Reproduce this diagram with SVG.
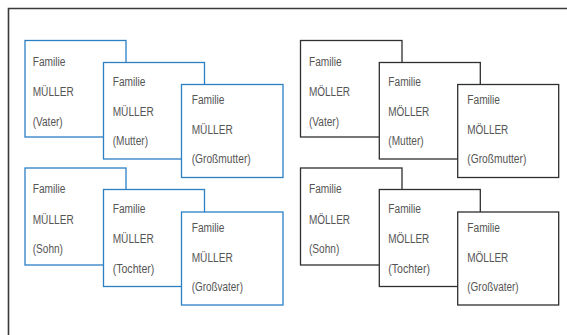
<svg xmlns="http://www.w3.org/2000/svg" width="567" height="335" viewBox="0 0 567 335">
<style>
.frame{fill:none;stroke:#3a3a3a;stroke-width:1.6}
.b{fill:#fff;stroke:#2b7fc3;stroke-width:1.3}
.k{fill:#fff;stroke:#2f2f2f;stroke-width:1.3}
text{font-family:"Liberation Sans",Arial,sans-serif;font-size:12px;fill:#555}
</style>
<rect width="567" height="335" fill="#fff"/>
<path class="frame" d="M8.5,335 V8.5 H567"/>
<g id="blue-vater"><rect class="b" x="25" y="40.5" width="101" height="96.5"/><text x="32.7" y="66.3" textLength="32.7" lengthAdjust="spacingAndGlyphs">Familie</text><text x="32.7" y="96" textLength="41" lengthAdjust="spacingAndGlyphs">MÜLLER</text><text x="32.7" y="125.8" textLength="30" lengthAdjust="spacingAndGlyphs">(Vater)</text></g>
<g id="blue-mutter"><rect class="b" x="103.5" y="62.5" width="101" height="96.5"/><text x="112.7" y="86.3" textLength="32.7" lengthAdjust="spacingAndGlyphs">Familie</text><text x="112.7" y="116.3" textLength="41" lengthAdjust="spacingAndGlyphs">MÜLLER</text><text x="112.7" y="145.3" textLength="35.3" lengthAdjust="spacingAndGlyphs">(Mutter)</text></g>
<g id="blue-grossmutter"><rect class="b" x="181.5" y="84.5" width="101.5" height="93"/><text x="191.7" y="104.3" textLength="32.7" lengthAdjust="spacingAndGlyphs">Familie</text><text x="191.7" y="134.3" textLength="41" lengthAdjust="spacingAndGlyphs">MÜLLER</text><text x="191.7" y="163.3" textLength="59" lengthAdjust="spacingAndGlyphs">(Großmutter)</text></g>
<g id="blue-sohn"><rect class="b" x="25" y="168" width="101" height="97"/><text x="32.7" y="193.3" textLength="32.7" lengthAdjust="spacingAndGlyphs">Familie</text><text x="32.7" y="223.5" textLength="41" lengthAdjust="spacingAndGlyphs">MÜLLER</text><text x="32.7" y="253.3" textLength="30.3" lengthAdjust="spacingAndGlyphs">(Sohn)</text></g>
<g id="blue-tochter"><rect class="b" x="103.5" y="189.5" width="101" height="97"/><text x="112.7" y="213" textLength="32.7" lengthAdjust="spacingAndGlyphs">Familie</text><text x="112.7" y="243" textLength="41" lengthAdjust="spacingAndGlyphs">MÜLLER</text><text x="112.7" y="272.5" textLength="41.7" lengthAdjust="spacingAndGlyphs">(Tochter)</text></g>
<g id="blue-grossvater"><rect class="b" x="181.5" y="212" width="101.5" height="93"/><text x="191.7" y="232" textLength="32.7" lengthAdjust="spacingAndGlyphs">Familie</text><text x="191.7" y="261.5" textLength="41" lengthAdjust="spacingAndGlyphs">MÜLLER</text><text x="191.7" y="291" textLength="51.3" lengthAdjust="spacingAndGlyphs">(Großvater)</text></g>
<g id="black-vater"><rect class="k" x="300.5" y="40.5" width="101.5" height="96.5"/><text x="309" y="66.3" textLength="32.7" lengthAdjust="spacingAndGlyphs">Familie</text><text x="309" y="96" textLength="41" lengthAdjust="spacingAndGlyphs">MÖLLER</text><text x="309" y="125.8" textLength="30" lengthAdjust="spacingAndGlyphs">(Vater)</text></g>
<g id="black-mutter"><rect class="k" x="379.3" y="62.5" width="101" height="96.5"/><text x="388.3" y="86.3" textLength="32.7" lengthAdjust="spacingAndGlyphs">Familie</text><text x="388.3" y="116.3" textLength="41" lengthAdjust="spacingAndGlyphs">MÖLLER</text><text x="388.3" y="145.3" textLength="35.3" lengthAdjust="spacingAndGlyphs">(Mutter)</text></g>
<g id="black-grossmutter"><rect class="k" x="457.7" y="84.5" width="101" height="93"/><text x="467.3" y="104.3" textLength="32.7" lengthAdjust="spacingAndGlyphs">Familie</text><text x="467.3" y="134.3" textLength="41" lengthAdjust="spacingAndGlyphs">MÖLLER</text><text x="467.3" y="163.3" textLength="59" lengthAdjust="spacingAndGlyphs">(Großmutter)</text></g>
<g id="black-sohn"><rect class="k" x="300.5" y="168" width="101.5" height="97"/><text x="309" y="193.3" textLength="32.7" lengthAdjust="spacingAndGlyphs">Familie</text><text x="309" y="223.5" textLength="41" lengthAdjust="spacingAndGlyphs">MÖLLER</text><text x="309" y="253.3" textLength="30.3" lengthAdjust="spacingAndGlyphs">(Sohn)</text></g>
<g id="black-tochter"><rect class="k" x="379.3" y="189.5" width="101" height="97"/><text x="388.3" y="213" textLength="32.7" lengthAdjust="spacingAndGlyphs">Familie</text><text x="388.3" y="243" textLength="41" lengthAdjust="spacingAndGlyphs">MÖLLER</text><text x="388.3" y="272.5" textLength="41.7" lengthAdjust="spacingAndGlyphs">(Tochter)</text></g>
<g id="black-grossvater"><rect class="k" x="457.7" y="212" width="101" height="93"/><text x="467.3" y="232" textLength="32.7" lengthAdjust="spacingAndGlyphs">Familie</text><text x="467.3" y="261.5" textLength="41" lengthAdjust="spacingAndGlyphs">MÖLLER</text><text x="467.3" y="291" textLength="51.3" lengthAdjust="spacingAndGlyphs">(Großvater)</text></g>
<g id="connectors"></g>
</svg>
